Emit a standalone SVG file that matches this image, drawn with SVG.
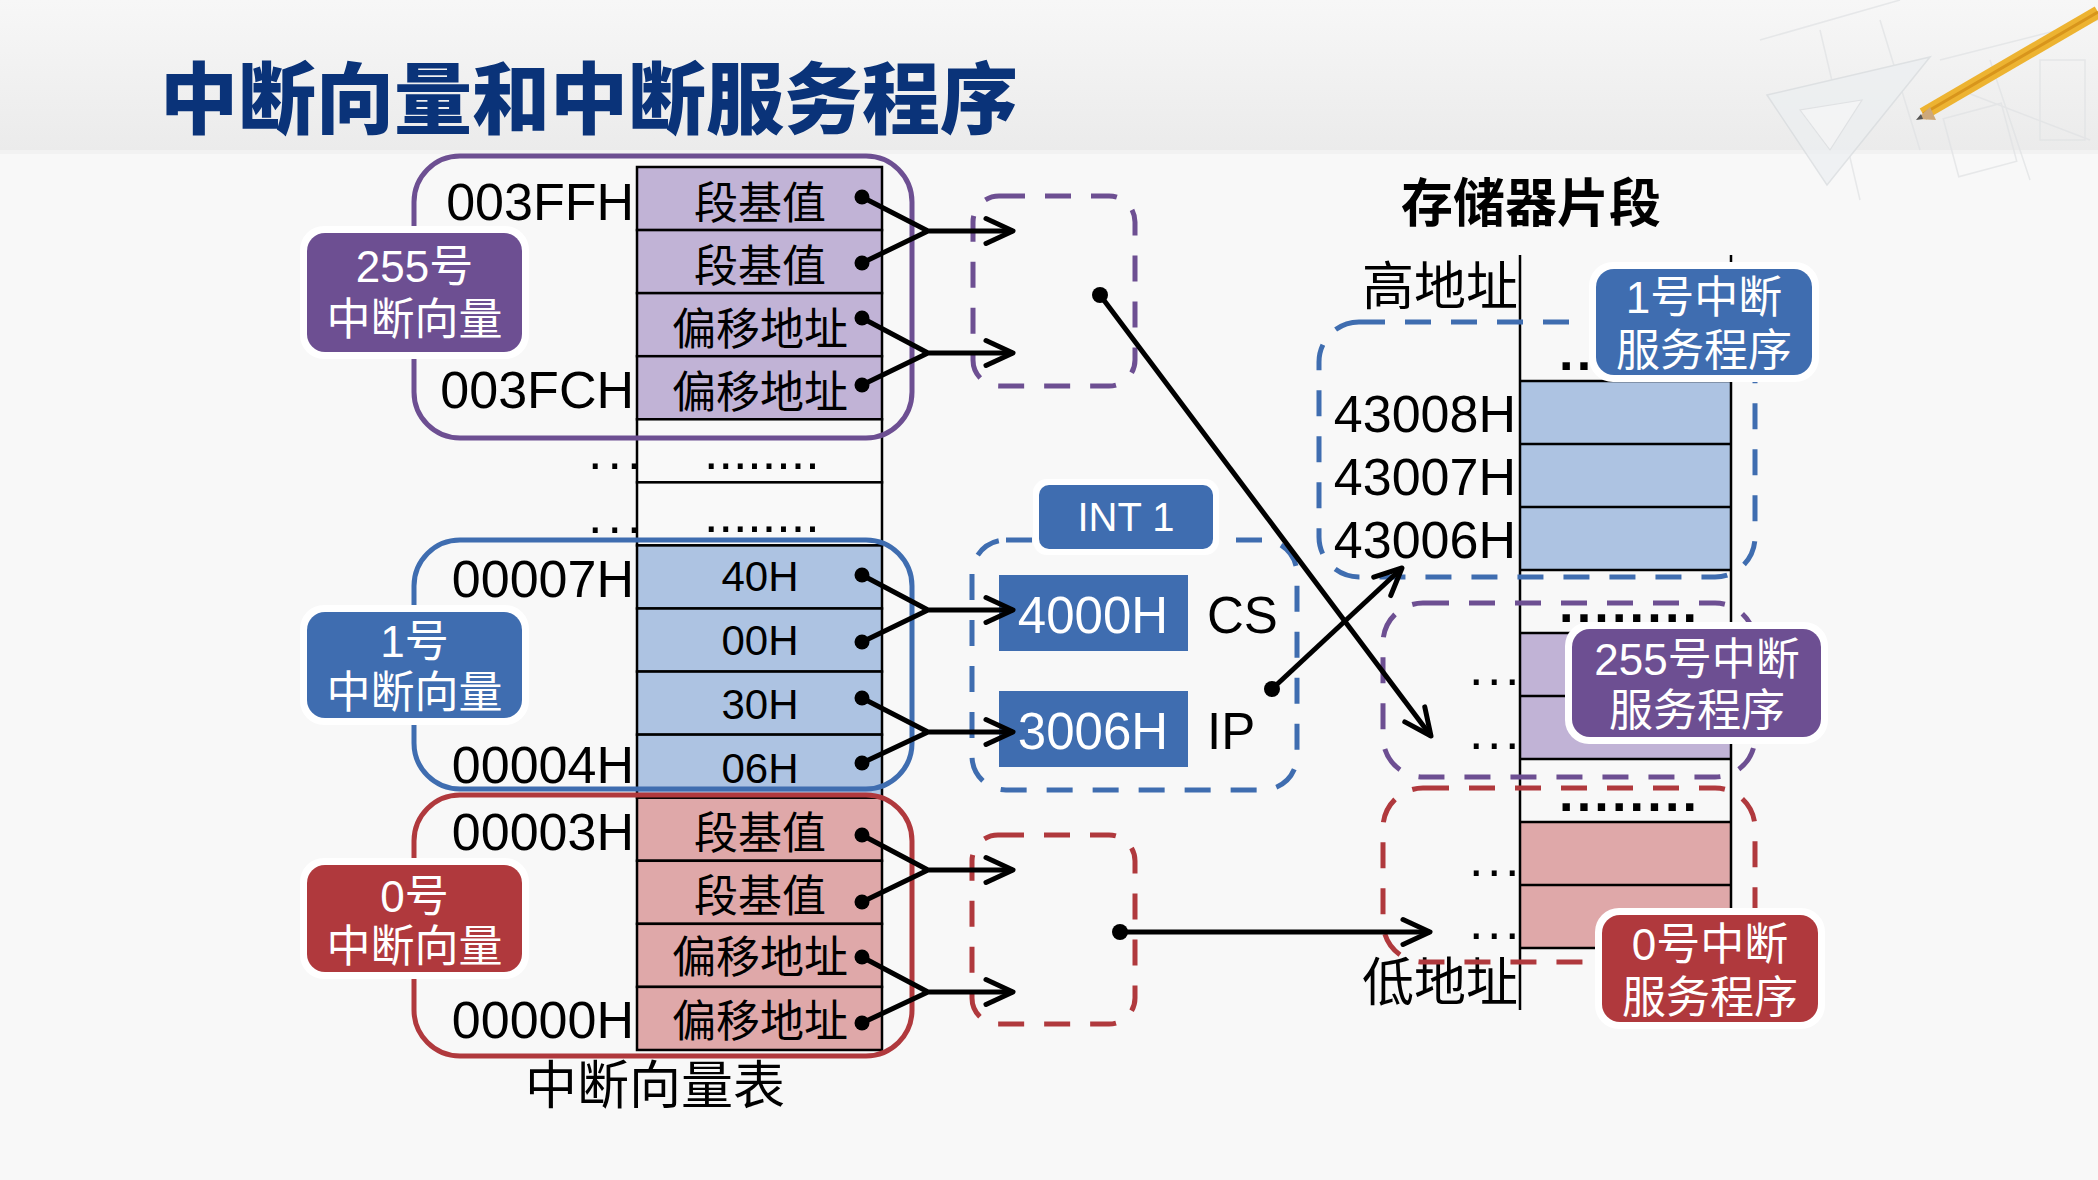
<svg xmlns="http://www.w3.org/2000/svg" width="2098" height="1180" viewBox="0 0 2098 1180">
<defs>
<linearGradient id="band" x1="0" y1="0" x2="0" y2="1">
<stop offset="0" stop-color="#f7f7f7"/>
<stop offset="1" stop-color="#ebebeb"/>
</linearGradient>
<marker id="arr" viewBox="-32 -18 38 36" markerWidth="38" markerHeight="36" refX="0" refY="0" orient="auto" markerUnits="userSpaceOnUse">
<path d="M-27,-12.5 L0,0 L-27,12.5" fill="none" stroke="#000" stroke-width="5" stroke-linecap="round" stroke-linejoin="round"/>
</marker>
<style>
.lbl{font-family:"Liberation Sans","Noto Sans CJK SC",sans-serif;font-size:52px;fill:#000;text-anchor:end}
.cj{font-family:"Noto Sans CJK SC",sans-serif;font-size:44px;fill:#000;text-anchor:middle}
.hx{font-family:"Liberation Sans",sans-serif;font-size:42px;fill:#000;text-anchor:middle}
.tag{font-family:"Liberation Sans","Noto Sans CJK SC",sans-serif;font-size:44px;fill:#fff;text-anchor:middle}
.dots{font-family:"Liberation Sans",sans-serif;font-size:52px;fill:#000}
.bdots{font-family:"Liberation Sans",sans-serif;font-size:52px;font-weight:bold;fill:#000;letter-spacing:3.2px}
.cell{stroke:#000;stroke-width:2.5}
.cp{fill:#c1b3d6}.cb{fill:#adc3e2}.cr{fill:#dfa8a9}.cw{fill:#f9f9f9}
.solid{fill:none;stroke-width:5}
.dash{fill:none;stroke-width:5;stroke-dasharray:26 20}
.sp{stroke:#6d4f92}.sb{stroke:#3f6db0}.sr{stroke:#b0393d}
.fp{fill:#6d4f92}.fb{fill:#3f6db0}.fr{fill:#b0393d}
.wb{fill:#ffffff}
.con{fill:none;stroke:#000;stroke-width:5;stroke-linejoin:round}
.dot{fill:#000}
</style>
</defs>

<!-- background -->
<rect x="0" y="0" width="2098" height="1180" fill="#f8f8f8"/>
<rect x="0" y="0" width="2098" height="150" fill="url(#band)"/>
<rect x="0" y="150" width="2098" height="4" fill="#f2f2f2"/>
<g id="decoration" opacity="0.7">
<g fill="none" stroke="#e0e2e4" stroke-width="1.5">
<path d="M1760,40 L1900,0 M1820,30 L1860,200 M1880,20 L1920,150 M1940,60 L2098,20 M1960,90 L2090,140 M1990,60 L2030,180"/>
<rect x="1950" y="110" width="60" height="60" transform="rotate(-15 1980 140)"/>
<rect x="2040" y="60" width="45" height="80"/>
</g>
<polygon points="1767,95 1827,185 1930,57" fill="#eceff1" stroke="#d6dadd" stroke-width="1.5"/>
<polygon points="1800,110 1830,150 1862,100" fill="#f6f7f8" stroke="#dadde0" stroke-width="1.2"/>
</g>
<g id="pencil">
<line x1="1923" y1="114" x2="2098" y2="12" stroke="#edb331" stroke-width="13" stroke-linecap="butt"/>
<line x1="1923" y1="114" x2="2098" y2="12" stroke="#d8951c" stroke-width="3"/>
<polygon points="1917,119 1930,107 1936,120" fill="#cda87a"/>
<polygon points="1916,120 1921,114 1923,119" fill="#555"/>
</g>

<!-- title -->
<text x="160" y="128" font-family="'Noto Sans CJK SC',sans-serif" font-size="78" font-weight="900" fill="#0a3379">中断向量和中断服务程序</text>

<!-- vector table -->
<g id="vector-table">
<rect class="cell cp" x="637" y="167" width="245" height="63.07"/>
<rect class="cell cp" x="637" y="230.07" width="245" height="63.07"/>
<rect class="cell cp" x="637" y="293.14" width="245" height="63.07"/>
<rect class="cell cp" x="637" y="356.21" width="245" height="63.07"/>
<rect class="cell cw" x="637" y="419.28" width="245" height="63.07"/>
<rect class="cell cw" x="637" y="482.35" width="245" height="63.07"/>
<rect class="cell cb" x="637" y="545.42" width="245" height="63.07"/>
<rect class="cell cb" x="637" y="608.49" width="245" height="63.07"/>
<rect class="cell cb" x="637" y="671.56" width="245" height="63.07"/>
<rect class="cell cb" x="637" y="734.63" width="245" height="63.07"/>
<rect class="cell cr" x="637" y="797.7" width="245" height="63.07"/>
<rect class="cell cr" x="637" y="860.77" width="245" height="63.07"/>
<rect class="cell cr" x="637" y="923.84" width="245" height="63.07"/>
<rect class="cell cr" x="637" y="986.91" width="245" height="63.07"/>
<text class="cj" x="760" y="219">段基值</text>
<text class="cj" x="760" y="282">段基值</text>
<text class="cj" x="760" y="345">偏移地址</text>
<text class="cj" x="760" y="408">偏移地址</text>
<text class="dots" x="704" y="469">........</text>
<text class="dots" x="704" y="532">........</text>
<text class="hx" x="760" y="591">40H</text>
<text class="hx" x="760" y="655">00H</text>
<text class="hx" x="760" y="719">30H</text>
<text class="hx" x="760" y="783">06H</text>
<text class="cj" x="760" y="849">段基值</text>
<text class="cj" x="760" y="912">段基值</text>
<text class="cj" x="760" y="973">偏移地址</text>
<text class="cj" x="760" y="1037">偏移地址</text>
<text class="lbl" x="634" y="220">003FFH</text>
<text class="lbl" x="634" y="408">003FCH</text>
<text class="dots" x="588" y="469" letter-spacing="5">...</text>
<text class="dots" x="588" y="533" letter-spacing="5">...</text>
<text class="lbl" x="634" y="597">00007H</text>
<text class="lbl" x="634" y="783">00004H</text>
<text class="lbl" x="634" y="850">00003H</text>
<text class="lbl" x="634" y="1038">00000H</text>
<text x="655" y="1104" font-family="'Noto Sans CJK SC',sans-serif" font-size="52" text-anchor="middle" fill="#000">中断向量表</text>
</g>

<!-- group outlines -->
<g id="vec255">
<rect class="solid sp" x="414" y="156" width="498" height="282" rx="46"/>
<rect class="wb" x="300" y="226" width="229" height="133" rx="24"/>
<rect class="fp" x="307" y="233" width="215" height="119" rx="18"/>
<text class="tag" x="414.5" y="282">255号</text>
<text class="tag" x="414.5" y="335">中断向量</text>
</g>
<g id="vec1">
<rect class="solid sb" x="414" y="540" width="498" height="249" rx="46"/>
<rect class="wb" x="300" y="605" width="229" height="120" rx="24"/>
<rect class="fb" x="307" y="612" width="215" height="106" rx="18"/>
<text class="tag" x="414.5" y="657">1号</text>
<text class="tag" x="414.5" y="708">中断向量</text>
</g>
<g id="vec0">
<rect class="solid sr" x="414" y="795" width="498" height="261" rx="46"/>
<rect class="wb" x="300" y="858" width="229" height="121" rx="24"/>
<rect class="fr" x="307" y="865" width="215" height="107" rx="18"/>
<text class="tag" x="414.5" y="912">0号</text>
<text class="tag" x="414.5" y="962">中断向量</text>
</g>

<!-- middle dashed boxes -->
<g id="dest255">
<rect class="dash sp" x="973" y="196" width="162" height="190" rx="26"/>
</g>
<g id="dest0">
<rect class="dash sr" x="972" y="835" width="163" height="189" rx="26"/>
</g>
<g id="int1">
<rect class="dash sb" x="972" y="540" width="325" height="250" rx="34"/>
<rect class="wb" x="1033" y="479" width="186" height="76" rx="14"/>
<rect class="fb" x="1039" y="485" width="174" height="64" rx="10"/>
<text x="1126" y="531" font-family="'Liberation Sans',sans-serif" font-size="40" fill="#fff" text-anchor="middle">INT 1</text>
<rect class="fb" x="999" y="575" width="189" height="76"/>
<text x="1093" y="633" font-family="'Liberation Sans',sans-serif" font-size="51" fill="#fff" text-anchor="middle">4000H</text>
<text x="1207" y="633" font-family="'Liberation Sans',sans-serif" font-size="51" fill="#000">CS</text>
<rect class="fb" x="999" y="691" width="189" height="76"/>
<text x="1093" y="749" font-family="'Liberation Sans',sans-serif" font-size="51" fill="#fff" text-anchor="middle">3006H</text>
<text x="1207" y="749" font-family="'Liberation Sans',sans-serif" font-size="51" fill="#000">IP</text>
</g>

<!-- memory -->
<g id="memory">
<text x="1531" y="222" font-family="'Noto Sans CJK SC',sans-serif" font-size="52" font-weight="bold" text-anchor="middle" fill="#000">存储器片段</text>
<rect class="cb" x="1520" y="381" width="211" height="189"/>
<rect class="cp" x="1520" y="633" width="211" height="126"/>
<rect class="cr" x="1520" y="822" width="211" height="126"/>
<g stroke="#000" stroke-width="2.5">
<line x1="1520" y1="255" x2="1520" y2="1010"/>
<line x1="1731" y1="255" x2="1731" y2="948"/>
<line x1="1520" y1="381" x2="1731" y2="381"/>
<line x1="1520" y1="444" x2="1731" y2="444"/>
<line x1="1520" y1="507" x2="1731" y2="507"/>
<line x1="1520" y1="570" x2="1731" y2="570"/>
<line x1="1520" y1="633" x2="1731" y2="633"/>
<line x1="1520" y1="696" x2="1731" y2="696"/>
<line x1="1520" y1="759" x2="1731" y2="759"/>
<line x1="1520" y1="822" x2="1731" y2="822"/>
<line x1="1520" y1="885" x2="1731" y2="885"/>
<line x1="1520" y1="948" x2="1731" y2="948"/>
</g>
<text class="bdots" x="1559" y="370">..</text>
<text class="bdots" x="1559" y="622">........</text>
<text class="bdots" x="1559" y="811">........</text>
<text class="dots" x="1469" y="685" letter-spacing="3.5">...</text>
<text class="dots" x="1469" y="749" letter-spacing="3.5">...</text>
<text class="dots" x="1469" y="876" letter-spacing="3.5">...</text>
<text class="dots" x="1469" y="939" letter-spacing="3.5">...</text>
<text class="lbl" x="1518" y="305" font-size="51" font-family="'Noto Sans CJK SC',sans-serif">高地址</text>
<text class="lbl" x="1516" y="432" font-size="51">43008H</text>
<text class="lbl" x="1516" y="495" font-size="51">43007H</text>
<text class="lbl" x="1516" y="558" font-size="51">43006H</text>
<text class="lbl" x="1518" y="1001" font-size="51" font-family="'Noto Sans CJK SC',sans-serif">低地址</text>
</g>

<g id="isr1">
<rect class="dash sb" x="1319" y="322" width="436" height="255" rx="40"/>
<rect class="wb" x="1589" y="262" width="230" height="120" rx="24"/>
<rect class="fb" x="1596" y="269" width="216" height="106" rx="18"/>
<text class="tag" x="1704" y="313">1号中断</text>
<text class="tag" x="1704" y="366">服务程序</text>
</g>
<g id="isr255">
<rect class="dash sp" x="1383" y="603" width="372" height="174" rx="40"/>
<rect class="wb" x="1565" y="622" width="263" height="122" rx="24"/>
<rect class="fp" x="1572" y="629" width="249" height="108" rx="18"/>
<text class="tag" x="1697" y="675">255号中断</text>
<text class="tag" x="1697" y="726">服务程序</text>
</g>
<g id="isr0">
<rect class="dash sr" x="1383" y="788" width="372" height="174" rx="40"/>
<rect class="wb" x="1595" y="908" width="230" height="121" rx="24"/>
<rect class="fr" x="1602" y="915" width="216" height="107" rx="18"/>
<text class="tag" x="1710" y="960">0号中断</text>
<text class="tag" x="1710" y="1013">服务程序</text>
</g>

<!-- connectors -->
<g id="connectors">
<path class="con" d="M862,197 L928,231 L862,263 M928,231 L1013,231" marker-end="url(#arr)"/>
<path class="con" d="M862,318 L928,353 L862,385 M928,353 L1013,353" marker-end="url(#arr)"/>
<path class="con" d="M862,575 L928,610 L862,642 M928,610 L1013,610" marker-end="url(#arr)"/>
<path class="con" d="M862,698 L928,732 L862,763 M928,732 L1013,732" marker-end="url(#arr)"/>
<path class="con" d="M862,835 L928,870 L862,902 M928,870 L1013,870" marker-end="url(#arr)"/>
<path class="con" d="M862,957 L928,992 L862,1023 M928,992 L1013,992" marker-end="url(#arr)"/>
<circle class="dot" cx="862" cy="197" r="7.5"/>
<circle class="dot" cx="862" cy="263" r="7.5"/>
<circle class="dot" cx="862" cy="318" r="7.5"/>
<circle class="dot" cx="862" cy="385" r="7.5"/>
<circle class="dot" cx="862" cy="575" r="7.5"/>
<circle class="dot" cx="862" cy="642" r="7.5"/>
<circle class="dot" cx="862" cy="698" r="7.5"/>
<circle class="dot" cx="862" cy="763" r="7.5"/>
<circle class="dot" cx="862" cy="835" r="7.5"/>
<circle class="dot" cx="862" cy="902" r="7.5"/>
<circle class="dot" cx="862" cy="957" r="7.5"/>
<circle class="dot" cx="862" cy="1023" r="7.5"/>
<path class="con" d="M1100,295 L1431,736" marker-end="url(#arr)"/>
<circle class="dot" cx="1100" cy="295" r="8"/>
<path class="con" d="M1272,689 L1402,568" marker-end="url(#arr)"/>
<circle class="dot" cx="1272" cy="689" r="8"/>
<path class="con" d="M1120,932 L1430,932" marker-end="url(#arr)"/>
<circle class="dot" cx="1120" cy="932" r="8"/>
</g>
</svg>
